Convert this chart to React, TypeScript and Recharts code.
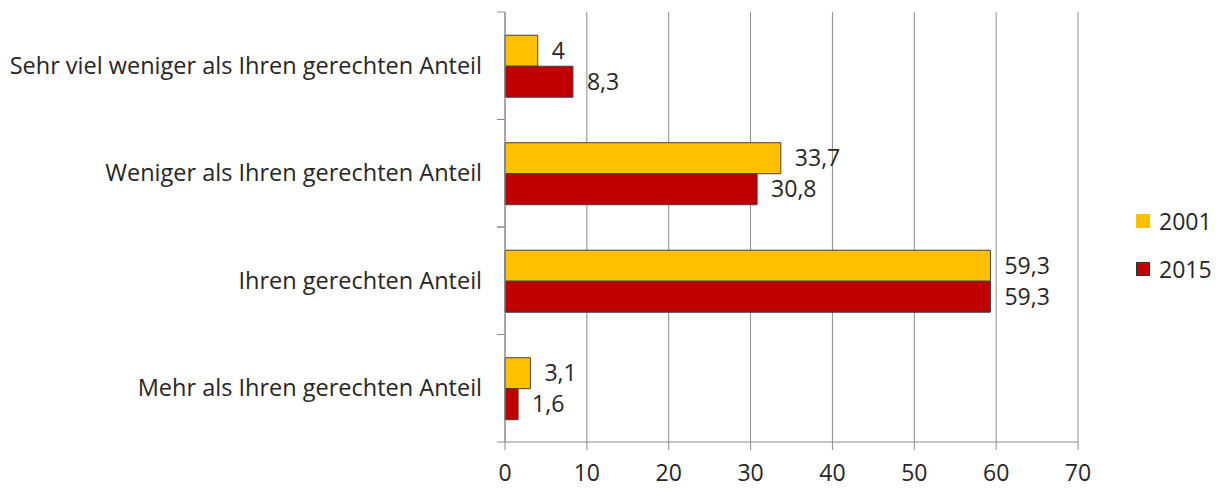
import { BarChart, Bar, XAxis, YAxis, CartesianGrid, Legend, LabelList } from "recharts";

const categories = [
  "Sehr viel weniger als Ihren gerechten Anteil",
  "Weniger als Ihren gerechten Anteil",
  "Ihren gerechten Anteil",
  "Mehr als Ihren gerechten Anteil",
];
const values2001 = [4, 33.7, 59.3, 3.1];
const values2015 = [8.3, 30.8, 59.3, 1.6];
const xTicks = [0, 10, 20, 30, 40, 50, 60, 70];
const seriesNames = ["2001", "2015"];
const seriesColors = ["#FFC000", "#C00000"];

const data = categories.map((name, i) => ({
  name,
  v2001: values2001[i],
  v2015: values2015[i],
}));

const WIDTH = 1214;
const HEIGHT = 480;
const MARGIN = { top: 4, right: 144, bottom: 0, left: 0 };
const Y_AXIS_WIDTH = 497;
const X_AXIS_HEIGHT = 46;
const FONT = "'Open Sans', sans-serif";
const FONT_SIZE = 23;
const TEXT = "#262626";
const AXIS = "#8c8c8c";

const bandHalf = (HEIGHT - MARGIN.top - MARGIN.bottom - X_AXIS_HEIGHT) / categories.length / 2;

const fmt = (v: any) => String(v).replace(".", ",");

// category label plus Excel-style tick marks on the band boundaries
function CategoryTick(props: any) {
  const { y, payload } = props;
  const axisX = MARGIN.left + Y_AXIS_WIDTH;
  return (
    <g>
      <line x1={axisX - 8} x2={axisX} y1={y - bandHalf} y2={y - bandHalf} stroke={AXIS} />
      <line x1={axisX - 8} x2={axisX} y1={y + bandHalf} y2={y + bandHalf} stroke={AXIS} />
      <text x={axisX - 23} y={y} dy="0.35em" textAnchor="end" fontSize={23.5} fill={TEXT} fontFamily={FONT}>
        {payload.value}
      </text>
    </g>
  );
}

function LegendBox() {
  return (
    <div style={{ fontFamily: FONT, fontSize: FONT_SIZE, color: TEXT }}>
      {seriesNames.map((n, i) => (
        <div key={n} style={{ display: "flex", alignItems: "center", height: 24, marginBottom: 24 }}>
          <span
            style={{
              display: "inline-block",
              width: 14,
              height: 14,
              background: seriesColors[i],
              border: i === 1 ? "1px solid #333" : "none",
              boxSizing: "border-box",
              marginRight: 9,
            }}
          />
          {n}
        </div>
      ))}
    </div>
  );
}

export default function App() {
  return (
    <div style={{ width: WIDTH, height: HEIGHT }}>
      <BarChart
        width={WIDTH}
        height={HEIGHT}
        data={data}
        layout="vertical"
        margin={MARGIN}
        barCategoryGap="21.6%"
        barGap={0}
      >
        <CartesianGrid horizontal={false} stroke={AXIS} />
        <XAxis
          type="number"
          domain={[0, 70]}
          ticks={xTicks}
          height={X_AXIS_HEIGHT}
          stroke={AXIS}
          tickSize={8}
          tickMargin={15}
          tick={{ fill: TEXT, fontSize: FONT_SIZE, fontFamily: FONT }}
        />
        <YAxis
          type="category"
          dataKey="name"
          width={Y_AXIS_WIDTH}
          stroke={AXIS}
          tickLine={false}
          tick={<CategoryTick />}
          interval={0}
        />
        <Legend
          layout="horizontal"
          verticalAlign="middle"
          align="center"
          content={<LegendBox />}
          wrapperStyle={{ left: 1128, top: 201, width: 90 }}
        />
        <Bar dataKey="v2001" name="2001" fill={seriesColors[0]} stroke="#404040" isAnimationActive={false}>
          <LabelList dataKey="v2001" position="right" offset={14} formatter={fmt} fontSize={FONT_SIZE} fill={TEXT} fontFamily={FONT} />
        </Bar>
        <Bar dataKey="v2015" name="2015" fill={seriesColors[1]} stroke="#404040" isAnimationActive={false}>
          <LabelList dataKey="v2015" position="right" offset={14} formatter={fmt} fontSize={FONT_SIZE} fill={TEXT} fontFamily={FONT} />
        </Bar>
      </BarChart>
    </div>
  );
}
